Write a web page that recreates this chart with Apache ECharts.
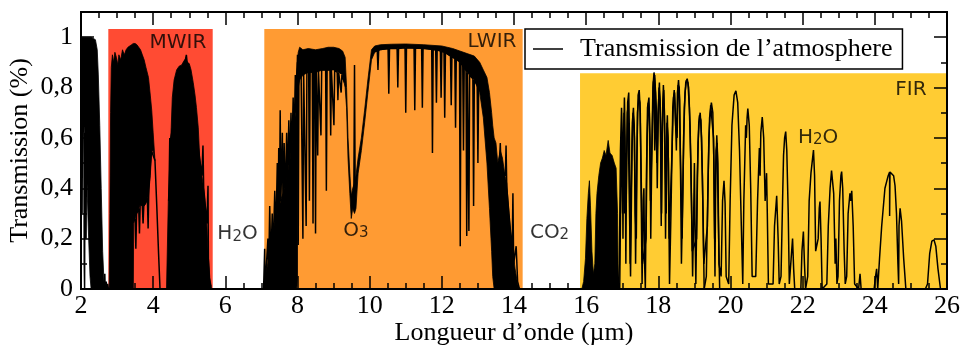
<!DOCTYPE html>
<html><head><meta charset="utf-8">
<script src="https://cdn.jsdelivr.net/npm/echarts@6/dist/echarts.min.js"></script>
<style>html,body{margin:0;padding:0;background:#fff}#c{width:962px;height:345px}</style>
</head><body><div id="c"></div><script>
// ---- Data (wavelength in µm, transmission 0..1) ----
const xTicks = [2,4,6,8,10,12,14,16,18,20,22,24,26];
const yTickLabels = ['0','0,2','0,4','0,6','0,8','1'];

// spectral bands: [from, to, top]
const bandFrom = [2.757, 7.08, 15.83];
const bandTo   = [5.65, 14.24, 26];
const bandTop  = [1.032, 1.032, 0.857];
const bandNames = ['MWIR','LWIR','FIR'];

// dense (unresolved) parts of the spectrum: [x, lower envelope, upper envelope]
const fillSWIR = [[2.0,0.66,1.0],[2.1,0.64,1.0],[2.15,0.5,1.0],[2.2,0.25,1.0],[2.25,0.05,1.0],[2.28,0,1.0],[2.4,0,0.99],[2.45,0,0.95],[2.48,0,0.85],[2.52,0,0.65],[2.56,0,0.4],[2.6,0,0.15],[2.64,0,0.02]];
const fillMWIR1 = [[2.78,0,0],[2.8,0,0.3],[2.82,0,0.7],[2.84,0,0.88],[2.87,0,0.93],[2.9,0,0.9],[2.94,0,0.94],[2.98,0,0.92],[3.02,0,0.89],[3.05,0,0.93],[3.1,0,0.91],[3.15,0,0.95],[3.2,0,0.93],[3.25,0,0.95],[3.3,0,0.96],[3.4,0,0.97],[3.45,0,0.975],[3.46,0.26,0.975],[3.5,0.28,0.975],[3.55,0.3,0.97],[3.6,0.32,0.96],[3.65,0.34,0.95],[3.7,0.33,0.93],[3.75,0.33,0.91],[3.8,0.34,0.88],[3.87,0.37,0.84],[3.92,0.45,0.77],[3.96,0.55,0.71],[4.0,0.55,0.62],[4.05,0.51,0.51]];
const fillMWIR2 = [[4.37,0,0],[4.42,0,0.35],[4.46,0,0.5],[4.5,0,0.64],[4.53,0,0.76],[4.58,0,0.83],[4.65,0,0.87],[4.72,0,0.885],[4.79,0,0.89],[4.85,0,0.905],[4.9,0,0.915],[4.95,0,0.9],[5.0,0,0.895],[5.05,0,0.87],[5.11,0,0.82],[5.16,0,0.77],[5.2,0,0.72],[5.25,0,0.64],[5.29,0,0.52],[5.34,0,0.46],[5.39,0,0.41],[5.44,0,0.34],[5.48,0,0.28],[5.52,0,0.15],[5.57,0,0.045],[5.62,0,0]];
const fillLWIR1 = [[7.07,0,0],[7.1,0,0.05],[7.15,0,0.08],[7.2,0,0.12],[7.25,0,0.18],[7.3,0,0.2],[7.35,0,0.25],[7.4,0,0.28],[7.45,0,0.3],[7.5,0,0.33],[7.55,0,0.36],[7.6,0,0.38],[7.65,0,0.4],[7.7,0,0.45],[7.75,0,0.48],[7.8,0,0.52],[7.85,0,0.58],[7.9,0,0.62],[7.95,0,0.72],[7.98,0,0.8],[8.0,0.05,0.88]];
const fillLWIR2 = [[7.97,0.7,0.85],[8.02,0.8,0.94],[8.06,0.83,0.96],[8.15,0.85,0.95],[8.3,0.86,0.955],[8.5,0.86,0.95],[8.7,0.87,0.955],[8.85,0.87,0.96],[9.0,0.87,0.96],[9.15,0.86,0.955],[9.25,0.85,0.945],[9.32,0.8,0.92],[9.36,0.72,0.8],[9.4,0.52,0.6],[9.45,0.38,0.46],[9.49,0.28,0.37],[9.53,0.32,0.4],[9.58,0.3,0.42],[9.62,0.32,0.45],[9.68,0.46,0.52],[9.77,0.55,0.6],[9.86,0.66,0.71],[9.95,0.78,0.83],[10.05,0.91,0.95],[10.14,0.94,0.965],[10.3,0.95,0.97],[10.6,0.955,0.972],[11.0,0.958,0.973],[11.5,0.955,0.97],[12.0,0.945,0.965],[12.3,0.92,0.955],[12.5,0.9,0.945],[12.7,0.86,0.935],[12.9,0.83,0.925],[13.05,0.78,0.9],[13.15,0.68,0.87],[13.25,0.5,0.84],[13.32,0.32,0.78],[13.38,0.15,0.7],[13.41,0.05,0.65],[13.45,0,0.6],[13.5,0,0.58],[13.55,0,0.5],[13.62,0,0.55],[13.68,0,0.52],[13.75,0,0.45],[13.8,0,0.42],[13.86,0,0.3],[13.92,0,0.2],[13.97,0,0.15],[14.03,0,0.08],[14.1,0,0.02],[14.15,0,0]];
const fillFIR = [[15.88,0,0],[15.93,0,0.03],[15.98,0,0.12],[16.02,0,0.28],[16.06,0,0.38],[16.09,0,0.43],[16.12,0,0.33],[16.16,0,0.15],[16.2,0,0.06],[16.24,0,0.1],[16.27,0,0.3],[16.3,0,0.38],[16.35,0,0.45],[16.4,0,0.5],[16.45,0,0.52],[16.5,0,0.55],[16.55,0,0.53],[16.61,0,0.59],[16.66,0,0.54],[16.72,0,0.53],[16.78,0,0.5],[16.83,0,0.48],[16.87,0,0.3],[16.89,0,0]];

// resolved lines: [x, transmission]
const lineSWIR = [[2.02,0.66],[2.03,0.3],[2.04,0.66],[2.08,0.7],[2.09,0.1],[2.1,0.0],[2.11,0.62],[2.13,0.6],[2.14,0.2],[2.15,0.55],[2.16,0.5]];
const lineGap1 = [[2.64,0],[2.66,0.06],[2.67,0],[2.7,0.03],[2.71,0],[2.74,0.02],[2.76,0]];
const lineMWIR1 = [[3.47,0.27],[3.5,0.28],[3.52,0.16],[3.54,0.3],[3.6,0.32],[3.62,0.22],[3.64,0.34],[3.7,0.33],[3.72,0.26],[3.74,0.33],[3.84,0.36],[3.86,0.24],[3.88,0.4],[3.95,0.55],[4.0,0.55],[4.05,0.51],[4.1,0.33],[4.15,0.14],[4.19,0]];
const lineMWIR2 = [[4.43,0.35],[4.44,0.4],[4.46,0.6],[4.47,0.45],[4.49,0.6],[4.88,0.9],[4.9,0.915],[4.92,0.93],[4.94,0.9],[5.35,0.45],[5.38,0.57],[5.4,0.4],[5.49,0.26],[5.52,0.41],[5.53,0.12],[5.56,0.03],[5.6,0.01]];
const lineLWIR1 = [[7.06,0],[7.09,0.16],[7.1,0],[7.18,0.2],[7.2,0.05],[7.23,0.33],[7.26,0.1],[7.3,0.3],[7.32,0.12],[7.37,0.39],[7.4,0.2],[7.44,0.5],[7.46,0.25],[7.48,0.56],[7.5,0.3],[7.52,0.71],[7.54,0.35],[7.58,0.62],[7.6,0.3],[7.63,0.58],[7.66,0.35],[7.7,0.62],[7.72,0.4],[7.76,0.67],[7.78,0.45],[7.82,0.7],[7.84,0.5],[7.88,0.76],[7.9,0.55],[7.94,0.85],[7.96,0.7],[8.0,0.93]];
const lineLWIR2 = [[8.0,0.9],[8.02,0.175],[8.04,0.88],[8.1,0.86],[8.15,0.2],[8.17,0.86],[8.22,0.86],[8.24,0.25],[8.26,0.86],[8.31,0.87],[8.33,0.35],[8.35,0.87],[8.41,0.86],[8.43,0.26],[8.45,0.86],[8.48,0.87],[8.5,0.22],[8.52,0.87],[8.55,0.87],[8.56,0.53],[8.58,0.87],[8.63,0.87],[8.65,0.61],[8.67,0.87],[8.78,0.87],[8.8,0.39],[8.82,0.87],[8.9,0.87],[8.92,0.61],[8.94,0.87],[8.99,0.87],[9.01,0.65],[9.03,0.87],[9.1,0.86],[9.12,0.75],[9.14,0.86],[9.19,0.86],[9.21,0.78],[9.23,0.85],[9.3,0.82]];
const lineO3 = [[9.56,0.35],[9.58,0.89],[9.6,0.33]];
const lineLWIR3 = [[10.1,0.94],[10.21,0.95],[10.23,0.87],[10.25,0.95],[10.51,0.955],[10.53,0.775],[10.55,0.955],[10.76,0.955],[10.78,0.8],[10.8,0.955],[10.98,0.958],[11.0,0.7],[11.02,0.958],[11.23,0.957],[11.25,0.71],[11.27,0.957],[11.44,0.956],[11.46,0.72],[11.48,0.956],[11.72,0.952],[11.74,0.54],[11.76,0.952],[11.83,0.95],[11.85,0.74],[11.87,0.95],[11.96,0.945],[11.98,0.76],[12.0,0.945],[12.06,0.94],[12.08,0.68],[12.1,0.94],[12.24,0.925],[12.26,0.73],[12.28,0.925],[12.36,0.915],[12.38,0.64],[12.4,0.915],[12.49,0.905],[12.51,0.17],[12.53,0.9],[12.58,0.89],[12.6,0.55],[12.62,0.885],[12.67,0.87],[12.69,0.21],[12.71,0.86],[12.74,0.86],[12.75,0.23],[12.77,0.85],[12.86,0.835],[12.88,0.33],[12.9,0.83],[12.98,0.81],[13.0,0.5],[13.02,0.8]];
const lineLWIR4 = [[13.58,0.45],[13.62,0.58],[13.64,0.48],[13.76,0.45],[13.78,0.57],[13.8,0.4],[13.95,0.15],[13.97,0.38],[13.99,0.1],[14.06,0.17],[14.1,0.03],[14.15,0]];
const lineFIR1 = [[16.89,0],[16.92,0.1],[16.95,0.55],[16.98,0.72],[17.0,0.62],[17.02,0.2],[17.04,0.6],[17.06,0.76],[17.08,0.6],[17.1,0.1],[17.12,0.5],[17.15,0.74],[17.18,0.78],[17.2,0.6],[17.22,0.1],[17.25,0.4],[17.28,0.66],[17.31,0.72],[17.34,0.6],[17.37,0.1],[17.4,0.5],[17.44,0.77],[17.47,0.79],[17.5,0.7],[17.53,0.3],[17.55,0.02],[17.58,0.35],[17.6,0.4],[17.62,0.1],[17.64,0],[17.67,0.45],[17.7,0.72],[17.74,0.76],[17.77,0.6],[17.79,0.2],[17.82,0.55],[17.85,0.8],[17.88,0.86],[17.91,0.82],[17.93,0.65],[17.9,0.55],[17.87,0.84],[17.9,0.85],[17.95,0.7],[17.97,0.4],[18.0,0.72],[18.03,0.82],[18.06,0.65],[18.08,0.25],[18.1,0.6],[18.14,0.81],[18.17,0.7],[18.2,0.2],[18.23,0.6],[18.25,0.69],[18.28,0.5],[18.31,0.02],[18.35,0.3],[18.4,0.72],[18.44,0.79],[18.47,0.7],[18.5,0.55],[18.53,0.78],[18.56,0.83],[18.59,0.75],[18.62,0.4],[18.64,0.1],[18.68,0.4],[18.72,0.72],[18.76,0.82],[18.8,0.835],[18.84,0.8],[18.88,0.65],[18.92,0.35],[18.95,0.05],[18.98,0.3],[19.0,0.5],[19.02,0.2],[19.04,0.02],[19.08,0.45],[19.12,0.66],[19.16,0.70],[19.2,0.6],[19.24,0.3],[19.27,0]];
const lineFIR2 = [[19.27,0],[19.33,0.05],[19.38,0.45],[19.42,0.68],[19.47,0.74],[19.51,0.7],[19.54,0.5],[19.57,0.05],[19.59,0.45],[19.62,0.61],[19.65,0.5],[19.68,0.1],[19.74,0.05],[19.78,0.35],[19.82,0.43],[19.85,0.34],[19.88,0.05],[19.95,0.02],[19.99,0.35],[20.04,0.65],[20.1,0.77],[20.15,0.787],[20.2,0.74],[20.25,0.55],[20.3,0.25],[20.34,0.02],[20.37,0.35],[20.42,0.65],[20.44,0.6],[20.46,0.68],[20.48,0.717],[20.52,0.65],[20.56,0.4],[20.6,0.05],[20.7,0.05],[20.75,0.35],[20.8,0.56],[20.82,0.45],[20.84,0.62],[20.88,0.683],[20.92,0.6],[20.96,0.35],[21.0,0.46],[21.02,0.3],[21.05,0.02],[21.18,0.02],[21.22,0.25],[21.28,0.37],[21.32,0.2],[21.35,0.02],[21.4,0.05],[21.45,0.4],[21.47,0.53],[21.5,0.6],[21.53,0.625],[21.56,0.55],[21.6,0.3],[21.63,0.02],[21.68,0.12],[21.72,0.2],[21.75,0.08],[21.78,0],[21.95,0],[21.98,0.15],[22.02,0.228],[22.05,0.1],[22.08,0],[22.14,0.05],[22.18,0.35],[22.23,0.46],[22.26,0.5],[22.3,0.552],[22.33,0.45],[22.36,0.15],[22.43,0.2],[22.46,0.32],[22.48,0.347],[22.51,0.2],[22.54,0],[22.67,0.02],[22.71,0.25],[22.76,0.4],[22.8,0.47],[22.82,0.473],[22.86,0.38],[22.9,0.1],[22.92,0.2],[22.95,0.02],[22.98,0.05],[23.02,0.35],[23.06,0.45],[23.08,0.466],[23.11,0.4],[23.15,0.15],[23.18,0.02],[23.22,0.05],[23.26,0.3],[23.31,0.38],[23.33,0.35],[23.36,0.39],[23.4,0.25],[23.44,0.02],[23.55,0],[23.59,0.06],[23.62,0],[23.98,0],[24.02,0.05],[24.05,0.08],[24.08,0],[24.13,0.12],[24.19,0.25],[24.28,0.4],[24.37,0.45],[24.41,0.465],[24.41,0.29],[24.42,0.465],[24.47,0.46],[24.52,0.45],[24.56,0.41],[24.6,0.3],[24.64,0.1],[24.66,0.02],[24.67,0.25],[24.7,0.32],[24.74,0.27],[24.8,0.12],[24.86,0],[25.4,0],[25.46,0.02],[25.52,0.14],[25.58,0.19],[25.64,0.195],[25.69,0.17],[25.75,0.08],[25.82,0]];
const lineFIR3 = [[16.93,0],[16.96,0.4],[16.99,0.6],[17.01,0.3],[17.03,0.55],[17.05,0.7],[17.07,0.3],[17.11,0.35],[17.14,0.7],[17.16,0.72],[17.19,0.4],[17.23,0.05],[17.27,0.55],[17.3,0.7],[17.33,0.65],[17.36,0.3],[17.39,0.2],[17.42,0.7],[17.46,0.76],[17.49,0.74],[17.52,0.5],[17.56,0.1],[17.66,0.2],[17.69,0.6],[17.72,0.74],[17.75,0.7],[17.78,0.35],[17.83,0.6],[17.86,0.82],[17.89,0.84],[17.92,0.78],[17.96,0.5],[17.99,0.5],[18.02,0.8],[18.05,0.75],[18.09,0.3],[18.12,0.72],[18.15,0.79],[18.18,0.6],[18.22,0.3],[18.24,0.66],[18.27,0.6],[18.3,0.2],[18.38,0.55],[18.42,0.76],[18.45,0.78],[18.48,0.65],[18.52,0.6],[18.55,0.81],[18.58,0.8],[18.61,0.55],[18.66,0.2],[18.7,0.6],[18.74,0.78],[18.78,0.83],[18.82,0.82],[18.86,0.72],[18.9,0.5],[18.94,0.15],[19.06,0.2],[19.1,0.58],[19.14,0.69],[19.18,0.67],[19.22,0.45],[19.26,0.1],[19.36,0.25],[19.4,0.6],[19.45,0.73],[19.49,0.73],[19.53,0.6],[19.56,0.2],[19.6,0.55],[19.63,0.58],[19.66,0.3],[19.7,0]];

// annotations
const annoX = [4.688, 13.39, 25.0, 6.338, 9.62, 14.985, 22.43];
const annoY = [0.979, 0.983, 0.792, 0.2175, 0.23, 0.224, 0.602];
const annoText = ['MWIR','LWIR','FIR','{n|H}{s|2}{n|O}','{n|O}{s|3}','{n|CO}{s|2}','{n|H}{s|2}{n|O}'];

const seriesName = 'Transmission de l’atmosphere';
const xName = 'Longueur d’onde (µm)';
const yName = 'Transmission (%)';

// ---- Chart ----
const SERIF = 'Liberation Serif';
const SANS = 'DejaVu Sans';
const FS = 26;
const bandColors = ['#FF4B33', '#FF9B33', '#FFCC33'];
const fillBlocks = [fillSWIR, fillMWIR1, fillMWIR2, fillLWIR1, fillLWIR2, fillFIR];
const lineBlocks = [lineSWIR, lineGap1, lineMWIR1, lineMWIR2, lineLWIR1, lineLWIR2, lineO3, lineLWIR3, lineLWIR4, lineFIR1, lineFIR2, lineFIR3];

const chart = echarts.init(document.getElementById('c'), null, {renderer: 'canvas'});

function yLabel(v) {
  const r = Math.round(v * 10);
  if (r % 2 !== 0 || r > 10) return '';
  return yTickLabels[r / 2];
}
function xAx(pos, labels) {
  return {
    type: 'value', position: pos, min: xTicks[0], max: xTicks[xTicks.length - 1], interval: 2, z: 10,
    axisLine: {show: true, onZero: false, lineStyle: {color: '#000', width: 2}},
    axisTick: {show: true, inside: true, length: 13, lineStyle: {color: '#000', width: 1.5}},
    minorTick: {show: true, splitNumber: 4, length: 6, lineStyle: {color: '#000', width: 1.5}},
    splitLine: {show: false}, minorSplitLine: {show: false},
    axisLabel: {show: labels, color: '#000', fontFamily: SERIF, fontSize: FS, margin: 4},
    name: labels ? xName : '', nameLocation: 'middle', nameGap: 31, nameMoveOverlap: false,
    nameTextStyle: {color: '#000', fontFamily: SERIF, fontSize: FS}
  };
}
function yAx(pos, interval, len, labels) {
  return {
    type: 'value', position: pos, min: 0, max: 1.1, interval: interval, z: 10,
    axisLine: {show: true, onZero: false, lineStyle: {color: '#000', width: 2}},
    axisTick: {show: true, inside: true, length: len, lineStyle: {color: '#000', width: 1.5}},
    splitLine: {show: false},
    axisLabel: {show: labels, color: '#000', fontFamily: SERIF, fontSize: FS, margin: 8, formatter: yLabel},
    name: labels ? yName : '', nameLocation: 'middle', nameGap: 48, nameMoveOverlap: false,
    nameTextStyle: {color: '#000', fontFamily: SERIF, fontSize: FS}
  };
}

const series = [];
series.push({
  name: 'bands', type: 'custom', z: 1, silent: true,
  data: bandFrom.map((f, i) => [f, bandTo[i], bandTop[i]]),
  encode: {x: [0, 1], y: 2},
  renderItem: function (params, api) {
    const p0 = api.coord([api.value(0), 0]);
    const p1 = api.coord([api.value(1), api.value(2)]);
    return {type: 'rect', shape: {x: p0[0], y: p1[1], width: p1[0] - p0[0], height: p0[1] - p1[1]},
      style: {fill: bandColors[params.dataIndex]}};
  }
});
series.push({
  name: 'fill', type: 'custom', z: 3, silent: true,
  data: fillBlocks.map((b, i) => [b[0][0], b[0][2], i]),
  encode: {x: 0, y: 1},
  renderItem: function (params, api) {
    const b = fillBlocks[params.dataIndex];
    const top = b.map(p => api.coord([p[0], p[2]]));
    const bot = b.slice().reverse().map(p => api.coord([p[0], p[1]]));
    return {type: 'polygon', shape: {points: top.concat(bot)},
      style: {fill: '#000', stroke: '#000', lineWidth: 0.8}};
  }
});
lineBlocks.forEach(function (blk) {
  series.push({
    name: seriesName, type: 'line', z: 4, data: blk, showSymbol: false, symbol: 'none',
    lineStyle: {color: '#000', width: 1.5}, itemStyle: {color: '#000'}, silent: true, clip: true
  });
});
series.push({
  name: 'labels', type: 'scatter', z: 6, silent: true, symbolSize: 1,
  itemStyle: {color: 'rgba(0,0,0,0)'},
  data: annoX.map((x, i) => [x, annoY[i]]),
  label: {
    show: true, position: 'inside', color: '#000', fontFamily: SANS, fontSize: 20,
    formatter: p => annoText[p.dataIndex],
    rich: {
      n: {fontFamily: SANS, fontSize: 20, color: '#000'},
      s: {fontFamily: SANS, fontSize: 15, color: '#000', verticalAlign: 'bottom', lineHeight: 10}
    }
  }
});

chart.setOption({
  animation: false,
  backgroundColor: '#fff',
  grid: {left: 81, right: 15, top: 12, bottom: 56, containLabel: false, outerBoundsMode: 'none'},
  xAxis: [xAx('bottom', true), xAx('top', false)],
  yAxis: [yAx('left', 0.2, 13, true), yAx('left', 0.1, 6, false), yAx('right', 0.2, 13, false), yAx('right', 0.1, 6, false)],
  legend: {
    data: [{name: seriesName, icon: 'rect'}],
    left: 525, top: 29, orient: 'horizontal', z: 20,
    padding: [7, 10, 7, 8], itemWidth: 30, itemHeight: 1.5,
    backgroundColor: '#fff', borderColor: '#000', borderWidth: 1.5, borderRadius: 0,
    itemStyle: {color: '#000'},
    textStyle: {fontFamily: SERIF, fontSize: FS, color: '#000', padding: [0, 0, 0, 12]},
    selectedMode: false
  },
  series: series
});
</script></body></html>
